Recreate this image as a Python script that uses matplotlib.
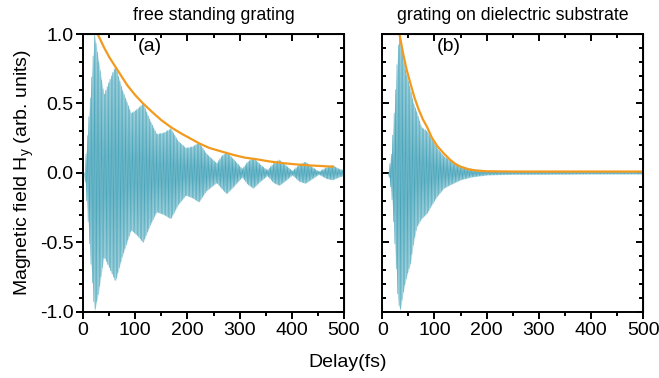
import numpy as np
import matplotlib
matplotlib.use('Agg')
import matplotlib.pyplot as plt
from matplotlib.ticker import MultipleLocator

plt.rcParams['font.family'] = ['Liberation Sans', 'DejaVu Sans']
plt.rcParams['axes.unicode_minus'] = False

# envelope of the oscillating field (upper / lower)
t_a = [3, 8, 14, 22, 30, 40, 50, 62, 75, 92, 104, 115, 128, 141, 155, 168,
       182, 197, 210, 222, 236, 256, 265, 275, 288, 305, 315, 326, 340, 353,
       365, 376, 390, 401, 414, 426, 440, 452, 466, 478, 490, 500]
up_a = [0.0, 0.25, 0.55, 1.0, 0.8, 0.56, 0.66, 0.77, 0.6, 0.43, 0.46, 0.50,
        0.38, 0.28, 0.29, 0.32, 0.23, 0.18, 0.19, 0.22, 0.14, 0.07, 0.12, 0.15,
        0.10, 0.03, 0.08, 0.11, 0.06, 0.02, 0.07, 0.095, 0.05, 0.015, 0.06,
        0.08, 0.04, 0.01, 0.04, 0.055, 0.03, 0.02]
lo_a = [0.0, 0.25, 0.6, 1.0, 0.85, 0.6, 0.68, 0.78, 0.6, 0.41, 0.45, 0.50,
        0.38, 0.28, 0.30, 0.33, 0.23, 0.16, 0.18, 0.21, 0.13, 0.07, 0.11, 0.15,
        0.10, 0.03, 0.08, 0.11, 0.06, 0.02, 0.07, 0.09, 0.05, 0.015, 0.06,
        0.075, 0.04, 0.01, 0.04, 0.05, 0.03, 0.02]

t_b = [12, 18, 24, 30, 34, 41, 47, 54, 60, 66, 75, 86, 95, 105, 118, 130,
       150, 170, 200, 250, 300, 400, 500]
up_b = [0.0, 0.15, 0.5, 0.9, 1.0, 0.8, 0.7, 0.6, 0.5, 0.44, 0.33, 0.30,
        0.24, 0.18, 0.12, 0.09, 0.05, 0.03, 0.015, 0.01, 0.01, 0.008, 0.008]
lo_b = [0.0, 0.15, 0.5, 0.9, 1.0, 0.84, 0.74, 0.65, 0.5, 0.39, 0.33, 0.29,
        0.23, 0.17, 0.11, 0.086, 0.05, 0.03, 0.015, 0.01, 0.01, 0.008, 0.008]

# orange decay fits
fit_t_a = [28, 40, 50, 61, 73, 85, 100, 115, 132, 150, 170, 190, 207, 224,
           242, 260, 288, 310, 330, 357, 384, 410, 430, 455, 479]
fit_v_a = [1.0, 0.905, 0.835, 0.77, 0.70, 0.63, 0.56, 0.50, 0.44, 0.38,
           0.325, 0.28, 0.245, 0.21, 0.18, 0.16, 0.13, 0.11, 0.10, 0.083,
           0.07, 0.061, 0.055, 0.05, 0.045]
fit_t_b = [33, 40, 47, 54, 62, 70, 78, 86, 95, 105, 118, 130, 140, 149, 165,
           181, 200, 250, 500]
fit_v_b = [1.0, 0.86, 0.74, 0.645, 0.54, 0.455, 0.385, 0.33, 0.255, 0.195,
           0.14, 0.095, 0.065, 0.047, 0.026, 0.017, 0.012, 0.01, 0.01]

titles = ['free standing grating', 'grating on dielectric substrate']
tags = ['(a)', '(b)']
half_period = 1.35  # fs, half of the optical cycle

teal = '#4ba6bb'
light = '#b3dae3'
orange = '#f39a1e'
fs = 14

fig = plt.figure(figsize=(6.59, 3.78), dpi=100)
ax_a = fig.add_axes([0.126, 0.175, 0.396, 0.735])
ax_b = fig.add_axes([0.580, 0.175, 0.396, 0.735])

panels = [(ax_a, t_a, up_a, lo_a, fit_t_a, fit_v_a),
          (ax_b, t_b, up_b, lo_b, fit_t_b, fit_v_b)]

for i, (ax, t, up, lo, ft, fv) in enumerate(panels):
    tt = np.arange(t[0], t[-1], half_period)
    u = np.interp(tt, t, up)
    l = np.interp(tt, t, lo)
    sig = np.where(np.arange(len(tt)) % 2 == 0, u, -l)
    ax.fill_between(tt, -l, u, color=light, lw=0)
    ax.plot(tt, sig, color=teal, lw=0.4)
    ax.plot(ft, fv, color=orange, lw=1.6)

    ax.set_xlim(0, 500)
    ax.set_ylim(-1.0, 1.0)
    ax.xaxis.set_major_locator(MultipleLocator(100))
    ax.xaxis.set_minor_locator(MultipleLocator(50))
    ax.yaxis.set_major_locator(MultipleLocator(0.5))
    ax.yaxis.set_minor_locator(MultipleLocator(0.1))
    for s in ax.spines.values():
        s.set_linewidth(1.4)
    ax.tick_params(axis='x', which='both', direction='out', top=False,
                   labelsize=fs, width=1.4, pad=2)
    ax.tick_params(axis='x', which='major', length=5)
    ax.tick_params(axis='x', which='minor', length=3)
    ydir = 'out' if i == 0 else 'in'
    ax.tick_params(axis='y', which='both', direction=ydir, right=False,
                   labelsize=fs, width=1.4, labelleft=(i == 0), pad=2)
    ax.tick_params(axis='y', which='major', length=5)
    ax.tick_params(axis='y', which='minor', length=3)

    sec_x = ax.secondary_xaxis('top')
    sec_x.xaxis.set_major_locator(MultipleLocator(100))
    sec_x.xaxis.set_minor_locator(MultipleLocator(50))
    sec_x.tick_params(which='both', direction='in', labeltop=False, width=1.4)
    sec_x.tick_params(which='major', length=5)
    sec_x.tick_params(which='minor', length=3)
    sec_y = ax.secondary_yaxis('right')
    sec_y.yaxis.set_major_locator(MultipleLocator(0.5))
    sec_y.yaxis.set_minor_locator(MultipleLocator(0.1))
    sec_y.tick_params(which='both', direction='in', labelright=False, width=1.4)
    sec_y.tick_params(which='major', length=5)
    sec_y.tick_params(which='minor', length=3)

    ax.set_title(titles[i], fontsize=12.8, pad=10)
    ax.text(128, 0.91, tags[i], fontsize=fs, ha='center', va='center')

ax_a.set_ylabel('Magnetic field H$_\\mathregular{y}$ (arb. units)', fontsize=fs,
                labelpad=3)
fig.text(0.527, 0.042, 'Delay(fs)', fontsize=fs, ha='center', va='center')

fig.savefig('out.png', dpi=100)
